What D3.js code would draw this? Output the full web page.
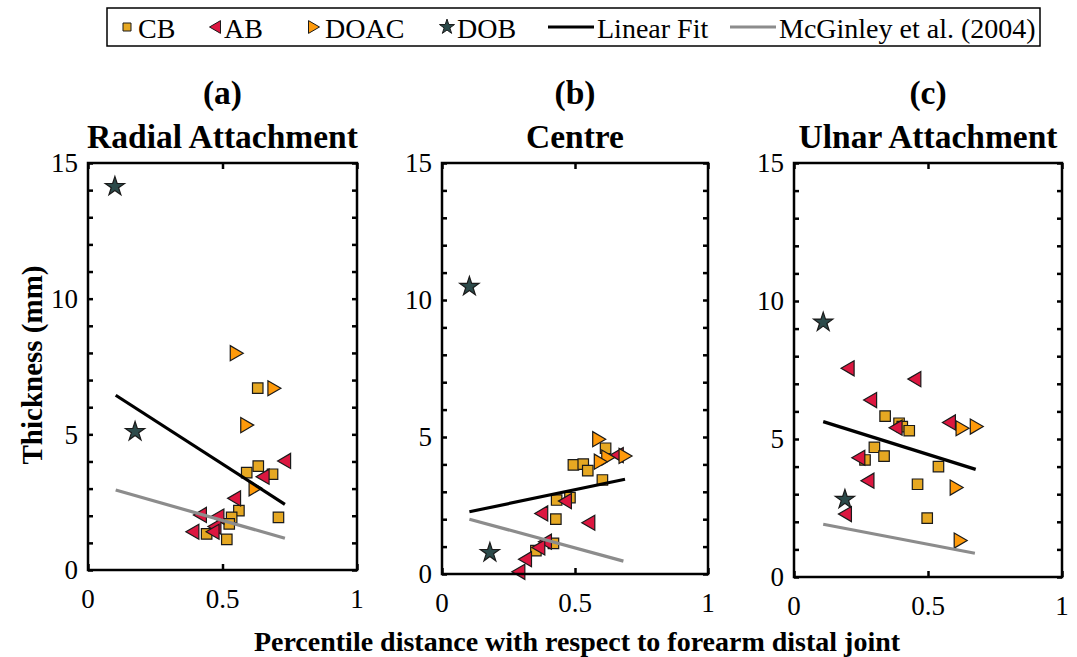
<!DOCTYPE html>
<html>
<head>
<meta charset="utf-8">
<script src="https://cdn.jsdelivr.net/npm/d3@7"></script>
<style>
  body { margin: 0; background: #fff; }
  text { font-family: "Liberation Serif", "Times New Roman", serif; }
</style>
</head>
<body>
<div id="chart"></div>
<script>
// values: [x, thickness]
const radialCB = [[0.631, 6.70], [0.633, 3.83], [0.590, 3.59], [0.686, 3.53], [0.561, 2.19],
  [0.708, 1.94], [0.534, 1.94], [0.525, 1.70], [0.441, 1.33], [0.516, 1.13]];
const radialAB = [[0.729, 4.02], [0.649, 3.44], [0.543, 2.64], [0.416, 2.03], [0.481, 1.97],
  [0.470, 1.60], [0.463, 1.41], [0.388, 1.41]];
const radialDOAC = [[0.553, 7.99], [0.693, 6.70], [0.592, 5.34], [0.623, 3.01]];
const radialDOB = [[0.100, 14.13], [0.175, 5.10]];
const radialFit = [[0.103, 6.44], [0.732, 2.42]];
const radialMcG = [[0.103, 2.95], [0.732, 1.17]];

const centreCB = [[0.615, 4.59], [0.494, 3.98], [0.531, 4.01], [0.548, 3.77], [0.603, 3.43],
  [0.481, 2.79], [0.431, 2.70], [0.428, 2.00], [0.419, 1.12], [0.353, 0.85]];
const centreAB = [[0.657, 4.34], [0.462, 2.66], [0.373, 2.21], [0.550, 1.87], [0.387, 1.18],
  [0.362, 0.97], [0.312, 0.54], [0.287, 0.08]];
const centreDOAC = [[0.591, 4.92], [0.690, 4.31], [0.625, 4.25], [0.597, 4.10]];
const centreDOB = [[0.103, 10.49], [0.180, 0.78]];
const centreFit = [[0.103, 2.27], [0.688, 3.46]];
const centreMcG = [[0.103, 2.00], [0.682, 0.47]];

const ulnarCB = [[0.340, 5.83], [0.392, 5.57], [0.404, 5.45], [0.430, 5.30], [0.300, 4.70],
  [0.336, 4.38], [0.265, 4.24], [0.539, 4.00], [0.461, 3.36], [0.497, 2.13]];
const ulnarAB = [[0.200, 7.56], [0.449, 7.17], [0.284, 6.41], [0.379, 5.41], [0.578, 5.60],
  [0.240, 4.32], [0.274, 3.49], [0.190, 2.28]];
const ulnarDOAC = [[0.629, 5.39], [0.682, 5.45], [0.607, 3.24], [0.622, 1.32]];
const ulnarDOB = [[0.109, 9.23], [0.190, 2.81]];
const ulnarFit = [[0.109, 5.63], [0.678, 3.90]];
const ulnarMcG = [[0.109, 1.91], [0.675, 0.86]];

const panelLetters = ['(a)', '(b)', '(c)'];
const panelTitles = ['Radial Attachment', 'Centre', 'Ulnar Attachment'];
const xTicks = [0, 0.5, 1];
const yTicks = [0, 5, 10, 15];
const legendNames = ['CB', 'AB', 'DOAC', 'DOB', 'Linear Fit', 'McGinley et al. (2004)'];

const width = 1077, height = 657;
const colors = { CB: '#e6a822', AB: '#dc1740', DOAC: '#ff9a0a', DOB: '#2c4a4a', fit: '#000', mcg: '#8c8c8c' };

// panel boxes (pixel)
const boxes = [
  { left: 88, right: 357, top: 163, bottom: 570 },
  { left: 442, right: 708, top: 163, bottom: 574 },
  { left: 794, right: 1062, top: 163, bottom: 577 }
];

const panels = [
  { CB: radialCB, AB: radialAB, DOAC: radialDOAC, DOB: radialDOB, fit: radialFit, mcg: radialMcG },
  { CB: centreCB, AB: centreAB, DOAC: centreDOAC, DOB: centreDOB, fit: centreFit, mcg: centreMcG },
  { CB: ulnarCB, AB: ulnarAB, DOAC: ulnarDOAC, DOB: ulnarDOB, fit: ulnarFit, mcg: ulnarMcG }
];

const svg = d3.select('#chart').append('svg')
  .attr('width', width).attr('height', height);

// marker shapes
function triPath(dir, s) {
  // dir -1 = pointing left, 1 = pointing right
  const h = s * 0.58;
  return `M${dir * s * 0.5},0L${-dir * s * 0.5},${-h}L${-dir * s * 0.5},${h}Z`;
}
const marker = {
  CB: () => d3.symbol(d3.symbolSquare, 110)(),
  AB: () => triPath(-1, 13),
  DOAC: () => triPath(1, 13),
  DOB: () => d3.symbol(d3.symbolStar, 115)()
};

panels.forEach((p, i) => {
  const b = boxes[i];
  const x = d3.scaleLinear().domain([0, 1]).range([b.left, b.right]);
  const y = d3.scaleLinear().domain([0, 15]).range([b.bottom, b.top]);
  const g = svg.append('g');

  // markers
  ['CB', 'AB', 'DOAC', 'DOB'].forEach(key => {
    g.append('g').selectAll('path')
      .data(p[key])
      .join('path')
      .attr('transform', d => `translate(${x(d[0])},${y(d[1])})`)
      .attr('d', marker[key]())
      .attr('fill', colors[key])
      .attr('stroke', '#1a1a1a')
      .attr('stroke-width', 1.2);
  });

  const line = d3.line().x(d => x(d[0])).y(d => y(d[1]));
  g.append('path').attr('d', line(p.mcg)).attr('stroke', colors.mcg)
    .attr('stroke-width', 3.2).attr('fill', 'none');
  g.append('path').attr('d', line(p.fit)).attr('stroke', colors.fit)
    .attr('stroke-width', 3.2).attr('fill', 'none');

  // axes (ticks inward, box)
  const minor = d3.range(0, 16);
  g.append('g').attr('transform', `translate(${b.left},0)`)
    .call(d3.axisRight(y).tickValues(minor).tickSize(5).tickFormat(''))
    .call(a => a.select('.domain').remove());
  g.append('g').attr('transform', `translate(${b.right},0)`)
    .call(d3.axisLeft(y).tickValues(minor).tickSize(5).tickFormat(''))
    .call(a => a.select('.domain').remove());
  g.append('g').attr('transform', `translate(0,${b.bottom})`)
    .call(d3.axisTop(x).tickValues(xTicks).tickSize(6).tickFormat(''))
    .call(a => a.select('.domain').remove());
  g.append('g').attr('transform', `translate(0,${b.top})`)
    .call(d3.axisBottom(x).tickValues(xTicks).tickSize(6).tickFormat(''))
    .call(a => a.select('.domain').remove());
  g.selectAll('.tick line').attr('stroke', '#000').attr('stroke-width', 2.5);

  g.append('rect')
    .attr('x', b.left).attr('y', b.top)
    .attr('width', b.right - b.left).attr('height', b.bottom - b.top)
    .attr('fill', 'none').attr('stroke', '#000').attr('stroke-width', 2.5);

  // tick labels
  g.selectAll('.ylab').data(yTicks).join('text')
    .attr('x', b.left - 10).attr('y', d => y(d))
    .attr('dy', '0.35em').attr('text-anchor', 'end')
    .attr('font-size', 27).text(d => d);
  g.selectAll('.xlab').data(xTicks).join('text')
    .attr('x', d => x(d)).attr('y', b.bottom + 29)
    .attr('dy', '0.35em').attr('text-anchor', 'middle')
    .attr('font-size', 27).text(d => d);

  const cx = (b.left + b.right) / 2;
  g.append('text').attr('x', cx).attr('y', 104).attr('text-anchor', 'middle')
    .attr('font-size', 33.5).attr('font-weight', 'bold').text(panelLetters[i]);
  g.append('text').attr('x', cx).attr('y', 148).attr('text-anchor', 'middle')
    .attr('font-size', 33.5).attr('font-weight', 'bold').text(panelTitles[i]);
});

// axis titles
svg.append('text')
  .attr('transform', 'translate(42,365) rotate(-90)')
  .attr('text-anchor', 'middle').attr('font-size', 29).attr('font-weight', 'bold')
  .text('Thickness (mm)');
svg.append('text')
  .attr('x', 577).attr('y', 651).attr('text-anchor', 'middle')
  .attr('font-size', 28).attr('font-weight', 'bold')
  .text('Percentile distance with respect to forearm distal joint');

// legend
const leg = svg.append('g');
leg.append('rect').attr('x', 107).attr('y', 8).attr('width', 933).attr('height', 38)
  .attr('fill', '#fff').attr('stroke', '#000').attr('stroke-width', 1.5);
const legItems = [
  { name: legendNames[0], key: 'CB', mx: 127, tx: 138 },
  { name: legendNames[1], key: 'AB', mx: 215, tx: 224 },
  { name: legendNames[2], key: 'DOAC', mx: 314, tx: 325 },
  { name: legendNames[3], key: 'DOB', mx: 447, tx: 457 },
  { name: legendNames[4], key: 'fit', mx: 548, tx: 597 },
  { name: legendNames[5], key: 'mcg', mx: 730, tx: 779 }
];
const small = {
  CB: () => d3.symbol(d3.symbolSquare, 64)(), AB: () => triPath(-1, 11),
  DOAC: () => triPath(1, 11), DOB: () => d3.symbol(d3.symbolStar, 70)()
};
legItems.forEach(it => {
  if (it.key === 'fit' || it.key === 'mcg') {
    leg.append('line').attr('x1', it.mx).attr('x2', it.mx + 46)
      .attr('y1', 27).attr('y2', 27)
      .attr('stroke', colors[it.key]).attr('stroke-width', 3.2);
  } else {
    leg.append('path').attr('transform', `translate(${it.mx},27)`)
      .attr('d', small[it.key]())
      .attr('fill', colors[it.key]).attr('stroke', '#1a1a1a').attr('stroke-width', 1);
  }
  leg.append('text').attr('x', it.tx).attr('y', 28).attr('dy', '0.35em')
    .attr('font-size', 28).text(it.name);
});
</script>
</body>
</html>
